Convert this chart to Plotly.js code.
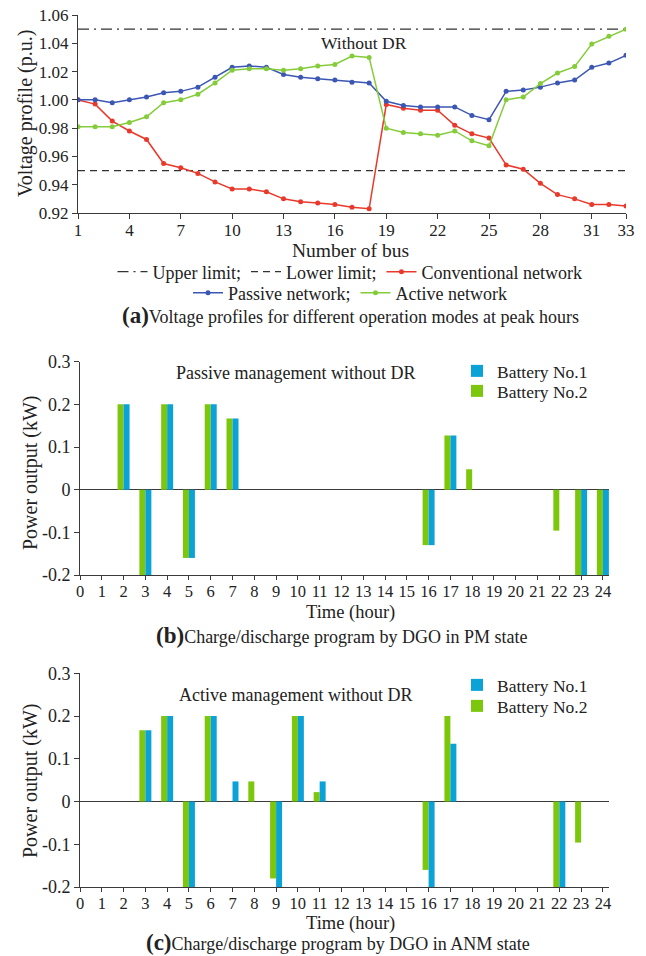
<!DOCTYPE html>
<html>
<head>
<meta charset="utf-8">
<script src="https://cdn.plot.ly/plotly-3.0.1.min.js"></script>
<style>html,body{margin:0;padding:0;background:#fff;}#chart{width:646px;height:956px;}</style>
</head>
<body>
<div id="chart"></div>
<script>
// ---------- Panel (a): voltage profiles ----------
const buses = [1,2,3,4,5,6,7,8,9,10,11,12,13,14,15,16,17,18,19,20,21,22,23,24,25,26,27,28,29,30,31,32,33];
const busTicks = [1,4,7,10,13,16,19,22,25,28,31,33];
const upperLimit = 1.05;
const lowerLimit = 0.95;
const conventional = [1.000,0.997,0.985,0.978,0.972,0.955,0.952,0.948,0.942,0.937,0.937,0.935,0.930,0.928,0.927,0.926,0.924,0.923,0.9967,0.994,0.9927,0.9927,0.982,0.976,0.973,0.954,0.951,0.941,0.933,0.930,0.926,0.926,0.925];
const passive = [1.000,1.000,0.998,1.000,1.002,1.005,1.006,1.009,1.016,1.023,1.024,1.023,1.018,1.016,1.015,1.014,1.0125,1.012,0.999,0.996,0.995,0.995,0.995,0.989,0.986,1.006,1.007,1.009,1.012,1.014,1.023,1.026,1.0315];
const active = [0.981,0.981,0.981,0.984,0.988,0.998,1.000,1.004,1.012,1.021,1.022,1.022,1.021,1.022,1.024,1.025,1.031,1.030,0.980,0.977,0.976,0.975,0.978,0.971,0.9675,1.000,1.002,1.0115,1.019,1.0235,1.0395,1.045,1.050];
const voltTicks = [0.92,0.94,0.96,0.98,1.00,1.02,1.04,1.06];

// ---------- Panels (b), (c): battery schedules ----------
const hours = [1,2,3,4,5,6,7,8,9,10,11,12,13,14,15,16,17,18,19,20,21,22,23,24];
const hourTicks = [0,1,2,3,4,5,6,7,8,9,10,11,12,13,14,15,16,17,18,19,20,21,22,23,24];
const pmBattery1 = [0,0.2,-0.2,0.2,-0.16,0.2,0.167,0,0,0,0,0,0,0,0,-0.13,0.127,0,0,0,0,0,-0.2,-0.2];
const pmBattery2 = [0,0.2,-0.2,0.2,-0.16,0.2,0.167,0,0,0,0,0,0,0,0,-0.13,0.127,0.048,0,0,0,-0.096,-0.2,-0.2];
const anmBattery1 = [0,0,0.167,0.2,-0.2,0.2,0.047,0,-0.2,0.2,0.047,0,0,0,0,-0.2,0.135,0,0,0,0,-0.2,0,0];
const anmBattery2 = [0,0,0.167,0.2,-0.2,0.2,0,0.047,-0.18,0.2,0.022,0,0,0,0,-0.16,0.2,0,0,0,0,-0.2,-0.096,0];
const powerTicks = [-0.2,-0.1,0,0.1,0.2,0.3];
const powerTickText = ['-0.2','-0.1','0','0.1','0.2','0.3'];

const FONT = '"Liberation Serif", "Times New Roman", serif';
const AX = '#3a3a3a';
const TXT = '#222';
const RED = '#e8392b', BLUE = '#3b56b3', GREEN = '#84cc3a';
const BAR_BLUE = '#0ba2d8', BAR_GREEN = '#7cc60c';
const W = 646, H = 956;
const px = v => v / W;
const py = v => 1 - v / H;

const traces = [
  {x:[buses[0], buses[buses.length-1]], y:[upperLimit, upperLimit], name:'Upper limit;', mode:'lines',
   line:{color:'#333', width:1.2, dash:'11px,5px,2px,5px'}, xaxis:'x', yaxis:'y', legend:'legend'},
  {x:[buses[0], buses[buses.length-1]], y:[lowerLimit, lowerLimit], name:'Lower limit;', mode:'lines',
   line:{color:'#333', width:1.2, dash:'7px,5px'}, xaxis:'x', yaxis:'y', legend:'legend'},
  {x:buses, y:conventional, name:'Conventional network', mode:'lines+markers',
   line:{color:RED, width:1.5}, marker:{color:RED, size:5}, xaxis:'x', yaxis:'y', legend:'legend'},
  {x:buses, y:passive, name:'Passive network;', mode:'lines+markers',
   line:{color:BLUE, width:1.5}, marker:{color:BLUE, size:5}, xaxis:'x', yaxis:'y', legend:'legend2'},
  {x:buses, y:active, name:'Active network', mode:'lines+markers',
   line:{color:GREEN, width:1.5}, marker:{color:GREEN, size:5}, xaxis:'x', yaxis:'y', legend:'legend2'},

  {type:'bar', x:hours, y:pmBattery2, name:'Battery No.2', marker:{color:BAR_GREEN, line:{width:0}},
   xaxis:'x2', yaxis:'y2', legend:'legend4'},
  {type:'bar', x:hours, y:pmBattery1, name:'Battery No.1', marker:{color:BAR_BLUE, line:{width:0}},
   xaxis:'x2', yaxis:'y2', legend:'legend3'},

  {type:'bar', x:hours, y:anmBattery2, name:'Battery No.2', marker:{color:BAR_GREEN, line:{width:0}},
   xaxis:'x3', yaxis:'y3', legend:'legend6'},
  {type:'bar', x:hours, y:anmBattery1, name:'Battery No.1', marker:{color:BAR_BLUE, line:{width:0}},
   xaxis:'x3', yaxis:'y3', legend:'legend5'}
];

const axBase = {showline:true, linecolor:AX, linewidth:1, ticks:'outside', ticklen:5, tickcolor:AX,
  showgrid:false, zeroline:false, tickfont:{family:FONT, size:17, color:TXT}};

const barY = (d) => Object.assign({}, axBase, {domain:d, range:[-0.2,0.3], tickvals:powerTicks, ticktext:powerTickText,
  zeroline:true, zerolinecolor:AX, zerolinewidth:1, tickfont:{family:FONT, size:18, color:TXT}});
const barX = (a) => Object.assign({}, axBase, {domain:[px(80), px(609)], range:[0,24.28], tickvals:hourTicks,
  anchor:a, ticklen:4, ticklabelstandoff:-3, tickfont:{family:FONT, size:16.5, color:TXT}});

const legBase = {font:{family:FONT, size:18, color:TXT}, bgcolor:'rgba(0,0,0,0)', borderwidth:0};
const barLeg = (yy) => Object.assign({}, legBase, {orientation:'v', x:px(457), xanchor:'left', y:py(yy), yanchor:'middle',
  font:{family:FONT, size:17.5, color:TXT}});

function ann(text, x, y, size, extra) {
  return Object.assign({text:text, x:px(x), y:py(y), xref:'paper', yref:'paper', showarrow:false,
    xanchor:'center', yanchor:'middle', font:{family:FONT, size:size, color:TXT}}, extra || {});
}

const layout = {
  width:W, height:H, margin:{l:0,r:0,t:0,b:0}, paper_bgcolor:'#fff', plot_bgcolor:'#fff',
  font:{family:FONT, color:TXT}, showlegend:true,
  barmode:'group', bargap:0.45, bargroupgap:0,
  xaxis: Object.assign({}, axBase, {domain:[px(78), px(626)], range:[1,33], tickvals:busTicks, anchor:'y', ticklabelstandoff:-3}),
  yaxis: Object.assign({}, axBase, {domain:[py(213), py(15)], range:[0.92,1.06], tickvals:voltTicks, tickformat:'.2f', anchor:'x'}),
  xaxis2: barX('y2'),
  yaxis2: Object.assign(barY([py(575), py(361.7)]), {anchor:'x2'}),
  xaxis3: barX('y3'),
  yaxis3: Object.assign(barY([py(887), py(673.3)]), {anchor:'x3'}),
  legend: Object.assign({}, legBase, {orientation:'h', x:px(350), xanchor:'center', y:py(272), yanchor:'middle', itemwidth:30}),
  legend2: Object.assign({}, legBase, {orientation:'h', x:px(350), xanchor:'center', y:py(293), yanchor:'middle', itemwidth:30}),
  legend3: barLeg(371),
  legend4: barLeg(391),
  legend5: barLeg(685),
  legend6: barLeg(706),
  annotations: [
    ann('Without DR', 364, 43, 17.5),
    ann('Voltage profile (p.u.)', 25, 114, 20, {textangle:-90}),
    ann('Number of bus', 350, 251, 19.5),
    ann('<b><span style="font-size:23px">(a)</span></b>Voltage profiles for different operation modes at peak hours', 350, 315, 18),

    ann('Passive management without DR', 295, 373, 18),
    ann('Power output (kW)', 30, 473, 20, {textangle:-90}),
    ann('Time (hour)', 350, 612, 18.5),
    ann('<b><span style="font-size:23px">(b)</span></b>Charge/discharge program by DGO in PM state', 341, 635, 18),

    ann('Active management without DR', 295, 695, 18),
    ann('Power output (kW)', 30, 781, 20, {textangle:-90}),
    ann('Time (hour)', 350, 923, 18.5),
    ann('<b><span style="font-size:23px">(c)</span></b>Charge/discharge program by DGO in ANM state', 338, 942, 18)
  ]
};

Plotly.newPlot('chart', traces, layout, {displayModeBar:false, staticPlot:true});
</script>
</body>
</html>
